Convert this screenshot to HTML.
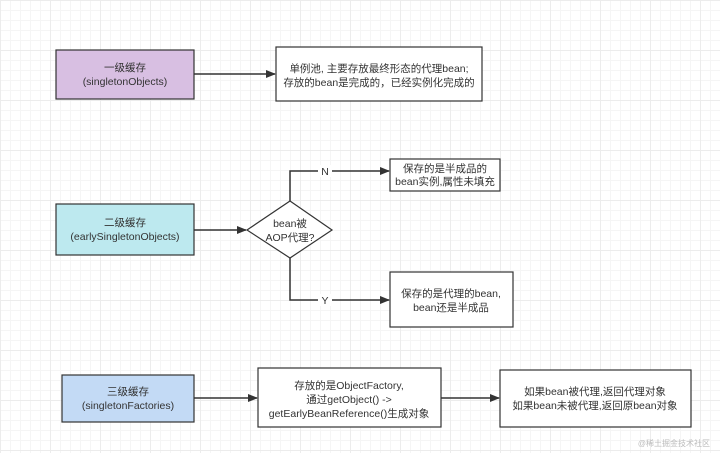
<!DOCTYPE html>
<html><head><meta charset="utf-8"><style>
html,body{margin:0;padding:0}
body{width:720px;height:453px;overflow:hidden;background-color:#fff;
background-image:linear-gradient(#ececec 1px,transparent 1px),linear-gradient(90deg,#ececec 1px,transparent 1px),linear-gradient(#f5f5f5 1px,transparent 1px),linear-gradient(90deg,#f5f5f5 1px,transparent 1px);
background-size:50px 50px,50px 50px,10px 10px,10px 10px;font-family:"Liberation Sans","Noto Sans CJK SC",sans-serif}
</style></head><body>
<svg width="720" height="453" xmlns="http://www.w3.org/2000/svg" style="position:absolute;left:0;top:0" font-family="Liberation Sans, Noto Sans CJK SC, sans-serif" font-size="10.5" fill="#333">
<defs><marker id="a" markerWidth="10" markerHeight="8" refX="9" refY="4" orient="auto" markerUnits="userSpaceOnUse"><path d="M0,0 L10,4 L0,8 Z" fill="#333"/></marker></defs>
<g stroke="#333" stroke-width="1.5" fill="none">
<line x1="194" y1="74" x2="275" y2="74" marker-end="url(#a)"/>
<line x1="194" y1="230" x2="246" y2="230" marker-end="url(#a)"/>
<polyline points="290,201 290,171 389,171" marker-end="url(#a)"/>
<polyline points="290,258 290,300 389,300" marker-end="url(#a)"/>
<line x1="194" y1="398" x2="257" y2="398" marker-end="url(#a)"/>
<line x1="441" y1="398" x2="499" y2="398" marker-end="url(#a)"/>
</g>
<g stroke="#333" stroke-width="1.2">
<rect x="56" y="50" width="138" height="49" fill="#d8bfe2"/>
<rect x="276" y="47" width="206" height="54" fill="#fff"/>
<rect x="56" y="204" width="138" height="51" fill="#bde9ef"/>
<polygon points="290,201 332,230 290,258 247,230" fill="#fff"/>
<rect x="390" y="159" width="110" height="32" fill="#fff"/>
<rect x="390" y="272" width="123" height="55" fill="#fff"/>
<rect x="62" y="375" width="132" height="47" fill="#c3daf5"/>
<rect x="258" y="368" width="183" height="59" fill="#fff"/>
<rect x="500" y="370" width="191" height="57" fill="#fff"/>
</g>
<rect x="318" y="165" width="14" height="12" fill="#fff"/><text x="325" y="175" text-anchor="middle">N</text>
<rect x="318" y="294" width="14" height="12" fill="#fff"/><text x="325" y="304" text-anchor="middle">Y</text>
<g text-anchor="middle">
<text x="125" y="71">一级缓存</text><text x="125" y="85">(singletonObjects)</text>
<text x="379" y="72">单例池, 主要存放最终形态的代理bean;</text><text x="379" y="86">存放的bean是完成的，已经实例化完成的</text>
<text x="125" y="226">二级缓存</text><text x="125" y="240">(earlySingletonObjects)</text>
<text x="290" y="227">bean被</text><text x="290" y="241">AOP代理?</text>
<text x="445" y="172">保存的是半成品的</text><text x="445" y="185">bean实例,属性未填充</text>
<text x="451" y="297">保存的是代理的bean,</text><text x="451" y="311">bean还是半成品</text>
<text x="128" y="395">三级缓存</text><text x="128" y="409">(singletonFactories)</text>
<text x="349" y="389">存放的是ObjectFactory,</text><text x="349" y="403">通过getObject() -&gt;</text><text x="349" y="417">getEarlyBeanReference()生成对象</text>
<text x="595" y="395">如果bean被代理,返回代理对象</text><text x="595" y="409">如果bean未被代理,返回原bean对象</text>
</g>
<text x="710" y="446" text-anchor="end" font-size="8" fill="#bbb">@稀土掘金技术社区</text>
</svg>
</body></html>
